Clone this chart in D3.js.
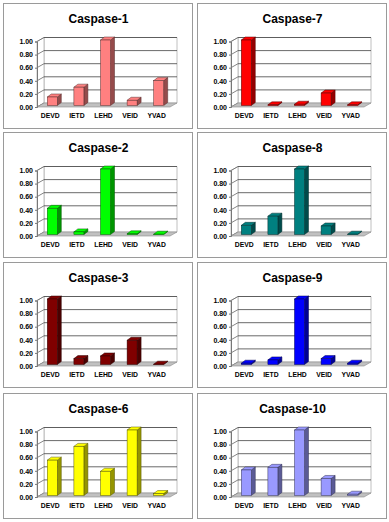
<!DOCTYPE html>
<html>
<head>
<meta charset="utf-8">
<script src="https://cdn.jsdelivr.net/npm/d3@7"></script>
<style>
  body { margin: 0; background: #fff; }
  svg { display: block; }
  text { font-family: Arial, "Liberation Sans", sans-serif; }
</style>
</head>
<body>
<svg id="chart"></svg>
<script>
// substrate categories, same for every panel
var categories = ["DEVD", "IETD", "LEHD", "VEID", "YVAD"]

// panels in reading order (left col, right col, row by row)
var panelNames = ["Caspase-1", "Caspase-7", "Caspase-2", "Caspase-8",
                  "Caspase-3", "Caspase-9", "Caspase-6", "Caspase-10"]

var casp1  = [0.13, 0.28, 1.00, 0.08, 0.38]
var casp7  = [1.00, 0.01, 0.02, 0.19, 0.01]
var casp2  = [0.40, 0.04, 1.00, 0.01, 0.005]
var casp8  = [0.14, 0.28, 1.00, 0.13, 0.005]
var casp3  = [1.00, 0.09, 0.13, 0.37, 0.005]
var casp9  = [0.02, 0.07, 1.00, 0.09, 0.02]
var casp6  = [0.54, 0.75, 0.37, 1.00, 0.03]
var casp10 = [0.39, 0.43, 1.00, 0.26, 0.02]
var panelValues = [casp1, casp7, casp2, casp8, casp3, casp9, casp6, casp10]

var panelColors = ["#ff8080", "#ff0000", "#00ff00", "#008080",
                   "#800000", "#0000ff", "#ffff00", "#9999ff"]

var yTicks = [0, 0.2, 0.4, 0.6, 0.8, 1.0]

var screen = {width: 389, height: 522}
var colX = [3, 197]
var rowY = [3, 132, 262, 393]
var panelW = 189, panelH = 125

var svg = d3.select("#chart")
  .attr("width", screen.width)
  .attr("height", screen.height)

// inner plot geometry (panel-local)
var frontLeft = 34, frontRight = 167
var y0 = 104, y1 = 38.5
var depth = {x: 7, y: -4}      // floor / wall depth
var barDepth = {x: 4, y: -3}   // bar depth
var barOff = {x: 2, y: -1.5}   // where bars sit inside the floor depth
var barW = 10

var xScale = d3.scaleBand().domain(categories).range([frontLeft, frontRight])
var yScale = d3.scaleLinear().domain([0, 1]).range([y0, y1])

var drawPanel = function(i) {
  var col = i % 2, row = Math.floor(i / 2)
  var vals = panelValues[i]
  var color = panelColors[i]
  var g = svg.append("g")
    .attr("transform", "translate(" + colX[col] + "," + rowY[row] + ")")

  g.append("rect")
    .attr("x", 0.5).attr("y", 0.5)
    .attr("width", panelW).attr("height", panelH)
    .attr("fill", "#fff")
    .attr("stroke", "#9a9a9a")

  g.append("text")
    .attr("x", panelW / 2 + 1)
    .attr("y", 20)
    .attr("text-anchor", "middle")
    .attr("font-size", "12px")
    .attr("font-weight", "bold")
    .text(panelNames[i])

  var bx0 = frontLeft + depth.x, bx1 = frontRight + depth.x
  // back wall
  g.append("path")
    .attr("d", "M" + bx0 + "," + (y1 + depth.y) + "L" + bx1 + "," + (y1 + depth.y) +
      "L" + bx1 + "," + (y0 + depth.y) + "L" + bx0 + "," + (y0 + depth.y) + "Z")
    .attr("fill", "#fff")
    .attr("stroke", "#b0b0b0")
    .attr("stroke-width", 0.8)
  // left wall
  g.append("path")
    .attr("d", "M" + frontLeft + "," + y1 + "L" + bx0 + "," + (y1 + depth.y) +
      "L" + bx0 + "," + (y0 + depth.y) + "L" + frontLeft + "," + y0 + "Z")
    .attr("fill", "#fff")
    .attr("stroke", "#b0b0b0")
    .attr("stroke-width", 0.8)

  // gridlines: back wall + left wall diagonals
  yTicks.forEach(function(t) {
    var yy = yScale(t)
    if (t > 0) {
      g.append("line")
        .attr("x1", bx0).attr("x2", bx1)
        .attr("y1", yy + depth.y).attr("y2", yy + depth.y)
        .attr("stroke", "#444").attr("stroke-width", 0.8)
    }
    g.append("line")
      .attr("x1", frontLeft).attr("x2", bx0)
      .attr("y1", yy).attr("y2", yy + depth.y)
      .attr("stroke", "#666").attr("stroke-width", 0.8)
  })

  // floor
  g.append("path")
    .attr("d", "M" + frontLeft + "," + y0 + "L" + frontRight + "," + y0 +
      "L" + bx1 + "," + (y0 + depth.y) + "L" + bx0 + "," + (y0 + depth.y) + "Z")
    .attr("fill", "#c0c0c0")
    .attr("stroke", "#8a8a8a")
    .attr("stroke-width", 0.6)

  // bars
  var side = d3.color(color).darker(1.5).formatHex()
  var edge = d3.color(color).darker(3).formatHex()
  categories.forEach(function(c, k) {
    var v = vals[k]
    var xl = xScale(c) + xScale.bandwidth() / 2 - barW / 2 + barOff.x
    var yb = yScale(0) + barOff.y
    var yt = yScale(v) + barOff.y
    var xr = xl + barW
    var bar = g.append("g")
    bar.append("path")
      .attr("d", "M" + xr + "," + yt + "L" + (xr + barDepth.x) + "," + (yt + barDepth.y) +
        "L" + (xr + barDepth.x) + "," + (yb + barDepth.y) + "L" + xr + "," + yb + "Z")
      .attr("fill", side).attr("stroke", edge).attr("stroke-width", 0.5)
    bar.append("path")
      .attr("d", "M" + xl + "," + yt + "L" + xr + "," + yt +
        "L" + (xr + barDepth.x) + "," + (yt + barDepth.y) + "L" + (xl + barDepth.x) + "," + (yt + barDepth.y) + "Z")
      .attr("fill", color).attr("stroke", edge).attr("stroke-width", 0.5)
    bar.append("rect")
      .attr("x", xl).attr("y", yt)
      .attr("width", barW).attr("height", Math.max(yb - yt, 0.5))
      .attr("fill", color).attr("stroke", edge).attr("stroke-width", 0.5)
  })

  // y axis
  var yAxis = g.append("g")
    .attr("transform", "translate(" + frontLeft + ",0)")
    .call(d3.axisLeft(yScale).tickValues(yTicks).tickFormat(d3.format(".2f")).tickSize(2).tickPadding(2))
  yAxis.select(".domain").attr("stroke", "#777")
  yAxis.selectAll(".tick line").attr("stroke", "#777")
  yAxis.selectAll("text")
    .attr("font-size", "7px").attr("font-weight", "bold")
    .attr("font-family", "Arial, 'Liberation Sans', sans-serif")
    .attr("fill", "#000")

  // x axis labels
  var xAxis = g.append("g")
    .attr("transform", "translate(0," + y0 + ")")
    .call(d3.axisBottom(xScale).tickSize(0).tickPadding(6))
  xAxis.select(".domain").remove()
  xAxis.selectAll("text")
    .attr("font-size", "6.8px").attr("font-weight", "bold")
    .attr("font-family", "Arial, 'Liberation Sans', sans-serif")
    .attr("fill", "#000")
}

panelNames.forEach(function(n, i) { drawPanel(i) })
</script>
</body>
</html>
